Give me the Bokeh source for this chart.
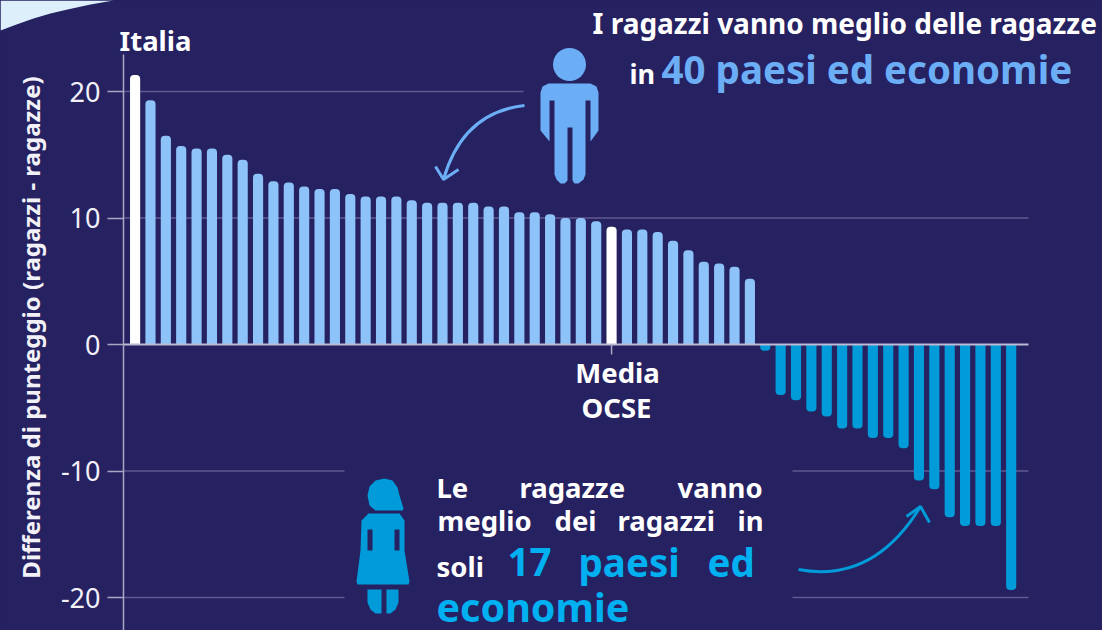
import math
from bokeh.plotting import figure
from bokeh.embed import file_html
from bokeh.resources import INLINE
from bokeh.models import Range1d, Label, FixedTicker

pos_values = [21.3, 19.3, 16.5, 15.7, 15.5, 15.5, 15.0, 14.6, 13.5, 12.9, 12.8, 12.5, 12.3, 12.3,
              11.9, 11.7, 11.7, 11.7, 11.4, 11.2, 11.2, 11.2, 11.2, 10.9, 10.9, 10.45, 10.45,
              10.3, 10.0, 10.0, 9.75, 9.3, 9.1, 9.1, 8.9, 8.2, 7.45, 6.55, 6.4, 6.15, 5.2]
neg_values = [-0.5, -4.0, -4.4, -5.3, -5.7, -6.65, -6.65, -7.4, -7.4, -8.2, -10.75, -11.45,
              -13.65, -14.35, -14.35, -14.35, -19.4]
highlight_index = [0, 31]
y_ticks = [-20, -10, 0, 10, 20]
y_tick_labels = {-20: "-20", -10: "-10", 0: "0", 10: "10", 20: "20"}

W, H = 1102, 630
BG = "#262161"
LIGHT = "#8DC3F8"
DARK = "#009BD8"
BOY = "#6CAEF5"
GIRL_TXT = "#00B0F0"
GRID = "#5F5A92"
AXIS = "#A9A6C6"
FONT = "Noto Sans"

# page-pixel <-> data conversion for the illustration layer
X0, DX = 134.6, 15.37
Y0, DY = 344.0, 12.65
def dx(px): return (px - X0) / DX
def dy(py): return (Y0 - py) / DY

p = figure(width=W, height=H, output_backend="svg", toolbar_location=None,
           x_range=Range1d(dx(0), dx(W)), y_range=Range1d(dy(H), dy(0)),
           min_border_left=0, min_border_right=0, min_border_top=0, min_border_bottom=0,
           background_fill_color=BG, border_fill_color=BG, outline_line_color=None)
p.xaxis.visible = False
p.xgrid.visible = False
p.ygrid.visible = False

ax = p.yaxis[0]
ax.fixed_location = dx(123)
ax.bounds = (dy(H), dy(54))
ax.ticker = FixedTicker(ticks=y_ticks)
ax.major_label_overrides = y_tick_labels
ax.major_label_text_font = FONT
ax.major_label_text_font_size = "27px"
ax.major_label_text_color = "#F2F1F8"
ax.major_label_standoff = 7
ax.major_tick_in = 0
ax.major_tick_out = 16
ax.minor_tick_line_color = None
ax.major_tick_line_color = AXIS
ax.axis_line_color = AXIS
ax.axis_line_width = 1.5
ax.major_tick_line_width = 1.5

# corner swoosh
swoosh = [(0, 0), (113, 0), (90, 4), (67, 9), (50, 13), (33, 18), (16, 24), (0, 30)]
p.patch([dx(a) for a, b in swoosh], [dy(b) for a, b in swoosh], fill_color="#DCEFFB", line_color=None)

# interrupted gridlines (value, from px, to px)
grid_vals = [20, 10, -10, -10, -20, -20]
grid_from = [123, 123, 123, 792, 123, 792]
grid_to = [523, 1028, 344, 1028, 344, 1028]
p.segment(x0=[dx(v) for v in grid_from], y0=grid_vals, x1=[dx(v) for v in grid_to], y1=grid_vals,
          line_color=GRID, line_width=1.5)

# bars
n_pos = len(pos_values)
pos_x = list(range(n_pos))
light_x = [i for i in pos_x if i not in highlight_index]
WIDTH = 0.66
p.vbar(x=light_x, top=[pos_values[i] for i in light_x], bottom=0, width=WIDTH,
       fill_color=LIGHT, line_color=None, border_radius=(4, 4, 0, 0))
p.vbar(x=highlight_index, top=[pos_values[i] for i in highlight_index], bottom=0, width=WIDTH,
       fill_color="#FFFFFF", line_color=None, border_radius=(4, 4, 0, 0))
neg_x = [n_pos + i for i in range(len(neg_values))]
p.vbar(x=neg_x, top=0, bottom=neg_values, width=WIDTH,
       fill_color=DARK, line_color=None, border_radius=(0, 0, 4, 4))

# zero line and OECD tick
p.segment(x0=[dx(123)], y0=[0], x1=[dx(1028)], y1=[0], line_color="#BDBBD6", line_width=2)
p.segment(x0=[highlight_index[1]], y0=[0], x1=[highlight_index[1]], y1=[dy(354)], line_color=AXIS, line_width=1.5)

# boy icon
p.circle(x=[dx(569)], y=[dy(64)], radius=16.5 / DX, fill_color=BOY, line_color=None)
boy_px = [(548, 83), (590, 83), (596, 86), (598, 92), (598, 130), (590, 141), (590, 100), (585, 100),
          (585, 174), (583, 179), (578, 183), (574, 183), (572, 180), (572, 127), (567, 127), (567, 180),
          (564, 183), (560, 183), (556, 179), (554, 174), (554, 100), (549, 100), (549, 141), (540, 130),
          (540, 92), (542, 86)]
p.patch([dx(a) for a, b in boy_px], [dy(b) for a, b in boy_px], fill_color=BOY, line_color=None)

# girl icon
girl_parts = [
    [(367, 495), (369, 486), (375, 480), (384, 478), (392, 480), (397, 487), (399, 495), (403, 508),
     (402, 510), (375, 510), (369, 505)],
    [(368, 513), (399, 513), (404, 520), (404, 550), (409, 581), (408, 584), (357, 584), (356, 581),
     (360, 550), (361, 520)],
    [(367, 589), (381, 589), (381, 613), (375, 613), (370, 609), (367, 602)],
    [(386, 589), (398, 589), (398, 602), (395, 609), (390, 613), (386, 613)],
]
for part in girl_parts:
    p.patch([dx(a) for a, b in part], [dy(b) for a, b in part], fill_color=DARK, line_color=None)
for part in [[(367, 529), (372, 529), (372, 550), (367, 550)], [(394, 529), (399, 529), (399, 550), (394, 550)]]:
    p.patch([dx(a) for a, b in part], [dy(b) for a, b in part], fill_color=BG, line_color=None)

# curved arrows
p.quadratic(x0=[dx(524)], y0=[dy(105)], x1=[dx(443)], y1=[dy(179)], cx=[dx(462)], cy=[dy(112)],
            line_color=BOY, line_width=3)
p.line([dx(435), dx(443), dx(458)], [dy(166), dy(179), dy(169)], line_color=BOY, line_width=3)
p.quadratic(x0=[dx(798)], y0=[dy(569)], x1=[dx(920)], y1=[dy(506)], cx=[dx(873)], cy=[dy(583)],
            line_color=DARK, line_width=3)
p.line([dx(906), dx(920), dx(929)], [dy(516), dy(506), dy(522)], line_color=DARK, line_width=3)

def label(txt, x, baseline, size, color="#FFFFFF", align="left"):
    # Label anchors its text about 0.39 em above the visible baseline
    p.add_layout(Label(x=x, y=H - baseline + 0.39 * size, x_units="screen", y_units="screen", text=txt,
                       text_font=FONT, text_font_style="bold", text_font_size=f"{size}px",
                       text_color=color, text_align=align, text_baseline="alphabetic"))

p.add_layout(Label(x=30, y=H - 327, x_units="screen", y_units="screen",
                   text="Differenza di punteggio (ragazzi - ragazze)", angle=math.pi / 2,
                   text_font=FONT, text_font_style="bold", text_font_size="24px", text_color="#F2F1F8",
                   text_align="center", text_baseline="alphabetic"))

label("Italia", 119, 51, 27.5)
label("Media", 617, 383, 27.5, align="center")
label("OCSE", 616, 418, 27.5, align="center")
label("I ragazzi vanno meglio delle ragazze", 592, 33, 28)
label("in", 629, 84, 27)
label("40 paesi ed economie", 661, 84, 38.5, BOY)
for t, x, b in [("Le", 436, 498), ("ragazze", 519, 498), ("vanno", 677, 498),
                ("meglio", 437, 531), ("dei", 554, 531), ("ragazzi", 617, 531), ("in", 737, 531),
                ("soli", 436, 577)]:
    label(t, x, b, 27.5)
for t, x, b in [("17", 507, 577), ("paesi", 578, 577), ("ed", 707, 577)]:
    label(t, x, b, 38.5, GIRL_TXT)
label("economie", 436, 622, 39.5, GIRL_TXT)

html = file_html(p, INLINE)
html = html.replace("<head>", "<head><style>html,body{margin:0;padding:0;background:%s;overflow:hidden}</style>" % BG, 1)
open("out.html", "w").write(html)
